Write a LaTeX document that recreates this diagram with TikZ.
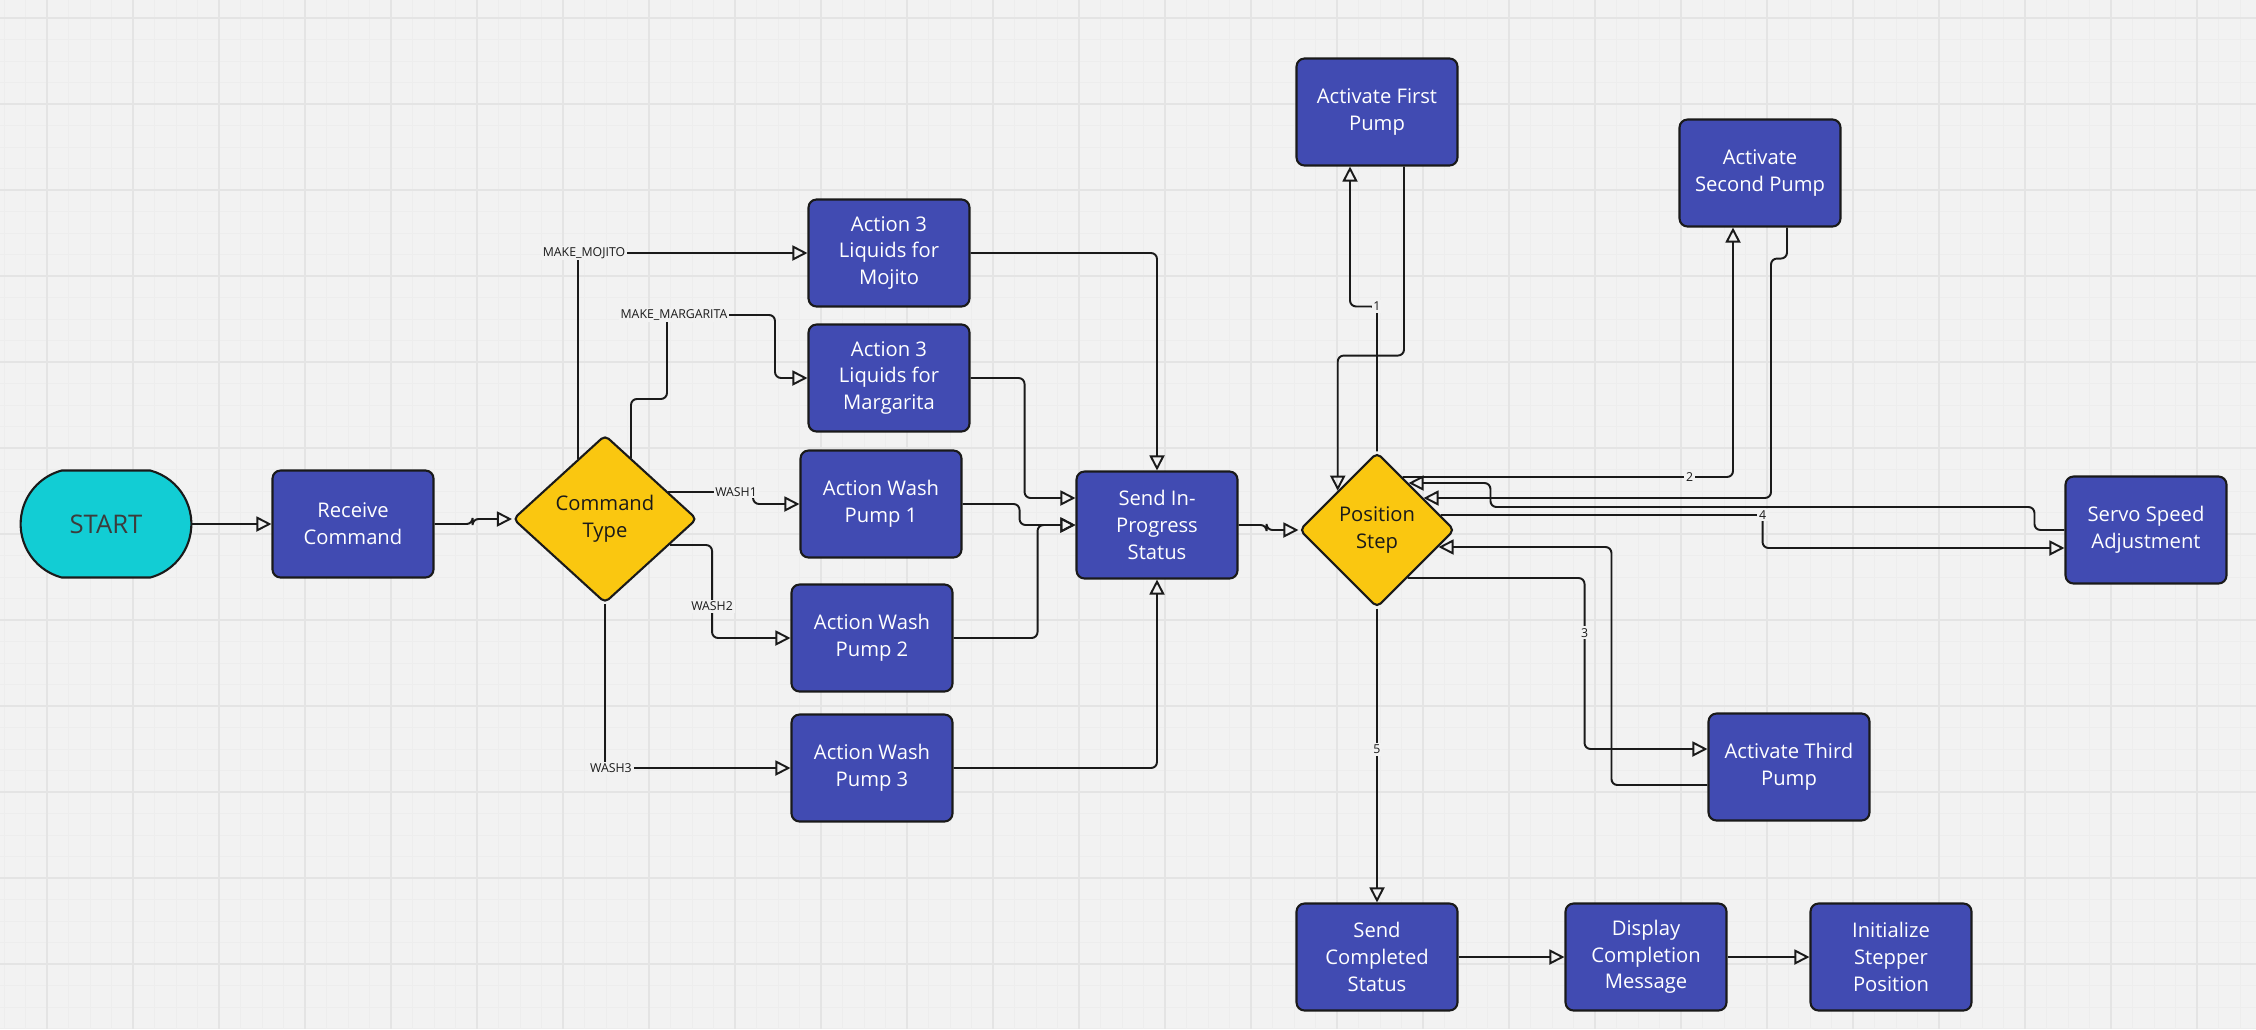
\documentclass[tikz,border=0pt]{standalone}
\usepackage{fontspec}
\setmainfont{Open Sans}
\usetikzlibrary{arrows.meta, calc, shapes.geometric, shapes.misc}
\definecolor{canvas}{HTML}{F2F2F2}
\definecolor{gridlite}{HTML}{EDEDED}
\definecolor{gridbold}{HTML}{E4E4E4}
\definecolor{boxcol}{HTML}{414BB2}
\definecolor{deccol}{HTML}{FAC710}
\definecolor{startcol}{HTML}{12CDD4}
\definecolor{ink}{HTML}{1A1A1A}
\tikzset{
	block/.style={draw=ink, line width=1.2pt, fill=boxcol, rounded corners=0.16cm, minimum width=3.22cm, minimum height=2.14cm, align=center, text=white, font=\fontsize{11.5}{15.2}\selectfont},
	decision/.style={diamond, draw=ink, line width=1.2pt, fill=deccol, rounded corners=0.1cm, inner sep=0pt, align=center, text=ink, font=\fontsize{11.5}{15.2}\selectfont},
	terminal/.style={rounded rectangle, rounded rectangle arc length=150, draw=ink, line width=1.2pt, fill=startcol, minimum width=3.65cm, minimum height=2.14cm, text=ink!85, font=\fontsize{14.6}{17}\selectfont},
	conn/.style={-{Triangle[open, length=0.3cm, width=0.3cm]}, line width=1.1pt, draw=ink, rounded corners=0.12cm},
	lbl/.style={fill=canvas, inner sep=1pt, text=ink, sharp corners, font=\fontsize{7}{8}\selectfont},
	minorline/.style={draw=gridlite, line width=0.4pt},
	majorline/.style={draw=gridbold, line width=0.6pt}
}

\begin{document}
\begin{tikzpicture}[x=0.02cm, y=-0.02cm]
		\useasboundingbox (0,0) rectangle (2256,1029);
		\fill[canvas] (0,0) rectangle (2256,1029);
		\foreach \i in {-2,...,102}
			\draw[minorline] ({47+21.5*\i},0) -- ({47+21.5*\i},1029);
		\foreach \j in {0,...,47}
			\draw[minorline] (0,{18+21.5*\j}) -- (2256,{18+21.5*\j});
		\foreach \k in {0,...,25}
			\draw[majorline] ({47+86*\k},0) -- ({47+86*\k},1029);
		\foreach \k in {0,...,11}
			\draw[majorline] (0,{18+86*\k}) -- (2256,{18+86*\k});
		
		\node[terminal] (start) at (106,524) {START};
		\node[block] (receive) at (353,524) {Receive\\Command};
		\node[decision, minimum width=3.68cm, minimum height=3.36cm] (cmdtype) at (605,519) {Command\\Type};
		\node[block] (mojito) at (889,253) {Action 3\\Liquids for\\Mojito};
		\node[block] (margarita) at (889,378) {Action 3\\Liquids for\\Margarita};
		\node[block] (wash1) at (881,504) {Action Wash\\Pump 1};
		\node[block] (wash2) at (872,638) {Action Wash\\Pump 2};
		\node[block] (wash3) at (872,768) {Action Wash\\Pump 3};
		\node[block] (sendprog) at (1157,525) {Send In-\\Progress\\Status};
		\node[decision, minimum width=3.1cm, minimum height=3.1cm] (posstep) at (1377,530) {Position\\Step};
		\node[block] (pump1) at (1377,112) {Activate First\\Pump};
		\node[block] (pump2) at (1760,173) {Activate\\Second Pump};
		\node[block] (servo) at (2146,530) {Servo Speed\\Adjustment};
		\node[block] (pump3) at (1789,767) {Activate Third\\Pump};
		\node[block] (sendcomp) at (1377,957) {Send\\Completed\\Status};
		\node[block] (display) at (1646,957) {Display\\Completion\\Message};
		\node[block] (initstep) at (1891,957) {Initialize\\Stepper\\Position};
		
		\draw[conn] (start.east) -- (receive.west);
		\draw[conn] (receive.east) -- ++(38,0) |- (cmdtype.west);
		\draw[conn] ($(cmdtype.north)+(-27,25)$) |- (mojito.west) node[lbl, pos=0.5, xshift=0.12cm] (lmojito) {MAKE\_MOJITO};
		\draw[conn] ($(cmdtype.north)+(26,24)$) -- ++(0,-59) -- ++(36,0) -- ++(0,-84) node[lbl, xshift=0.14cm] (lmarg) {MAKE\_MARGARITA} -- ++(108,0) |- (margarita.west);
		\draw[conn] ($(cmdtype.east)+(-30,-27)$) -- ++(68,0) node[lbl] (lwash1) {WASH1} -- ++(17,0) |- (wash1.west);
		\draw[conn] ($(cmdtype.east)+(-28,26)$) -- ++(42,0) |- (wash2.west) node[lbl, pos=0.33] (lwash2) {WASH2};
		\draw[conn] (cmdtype.south) |- (wash3.west) node[lbl, pos=0.5, xshift=0.12cm] (lwash3) {WASH3};
		
		\draw[conn] (mojito.east) -| (sendprog.north);
		\draw[conn] (margarita.east) -- ++(54,0) |- ($(sendprog.west)+(0,-27)$);
		\draw[conn] (wash1.east) -- ++(57,0) |- (sendprog.west);
		\draw[conn] (wash2.east) -- ++(84,0) |- (sendprog.west);
		\draw[conn] (wash3.east) -| (sendprog.south);
		\draw[conn] (sendprog.east) -- ++(28,0) |- (posstep.west);
		
		\draw[conn] (posstep.north) -- ++(0,-145) node[lbl] (l1) {1} -| ($(pump1.south)+(-27,0)$);
		\draw[conn] ($(pump1.south)+(27,0)$) -- ++(0,189) -| (posstep.north west);
		\draw[conn] ($(posstep.east)+(-53,-53)$) -- ++(287,0) node[lbl] (l2) {2} -| ($(pump2.south)+(-27,0)$);
		\draw[conn] ($(pump2.south)+(27,0)$) -- ++(0,31) -- ++(-16,0) |- ($(posstep.east)+(-32,-32)$);
		\draw[conn] ($(posstep.east)+(-15,-15)$) -- ++(322,0) node[lbl] (l4) {4} |- ($(servo.west)+(0,18)$);
		\draw[conn] (servo.west) -- ++(-30,0) |- ++(-544,-23) |- ($(posstep.east)+(-47,-47)$);
		\draw[conn] ($(posstep.east)+(-48,48)$) -- ++(177,0) |- ($(pump3.west)+(0,-18)$) node[lbl, pos=0.16] (l3) {3};
		\draw[conn] ($(pump3.west)+(0,18)$) -- ++(-96,0) |- ($(posstep.east)+(-17,17)$);
		\draw[conn] (posstep.south) -- (sendcomp.north) node[lbl, pos=0.48] (l5) {5};
		
		\draw[conn] (sendcomp.east) -- (display.west);
		\draw[conn] (display.east) -- (initstep.west);
	\end{tikzpicture}
\end{document}
